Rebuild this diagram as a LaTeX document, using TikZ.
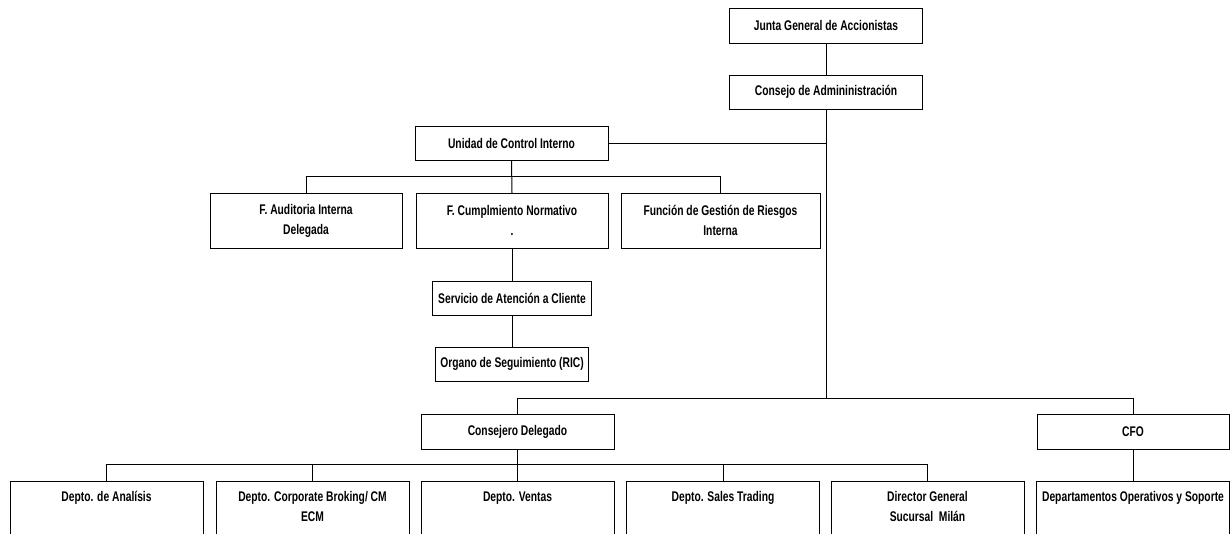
\documentclass[tikz,border=0pt]{standalone}
\usepackage{fontspec}
\setmainfont[FakeStretch=0.735]{Liberation Sans}
\begin{document}
\begin{tikzpicture}[x=1pt,y=-1pt,
  box/.style={draw=black,line width=1pt,fill=white,inner sep=0pt,outer sep=0pt,align=center,
    font=\fontsize{14}{20}\selectfont\bfseries},
  txt/.style={inner sep=0pt,align=center,anchor=north,font=\fontsize{14}{20}\selectfont\bfseries},
  con/.style={draw=black,line width=1pt}]
\clip (0,0) rectangle (1232,533);
\fill[white] (0,0) rectangle (1232,533);
% top
\node[box,minimum width=193,minimum height=35] (junta) at (826,25.5) {Junta General de Accionistas};
\node[box,minimum width=193,minimum height=34] (cadm) at (826,92) {Consejo de Admininistración};
\node[box,minimum width=193,minimum height=34] (uci) at (511.5,143) {Unidad de Control Interno};
% middle row
\node[box,minimum width=192,minimum height=55] (fa) at (306,220.5) {F. Auditoria Interna\\Delegada};
\node[box,minimum width=192,minimum height=55] (fc) at (512,220.5) {F. Cumplmiento Normativo\\.};
\node[box,minimum width=199,minimum height=55] (fg) at (720.5,220.5) {Función de Gestión de Riesgos\\Interna};
\node[box,minimum width=159,minimum height=34] (sac) at (512,298) {Servicio de Atención a Cliente};
\node[box,minimum width=153,minimum height=34] (ric) at (512,364) {Organo de Seguimiento (RIC)};
% lower
\node[box,minimum width=193,minimum height=35] (cd) at (517.5,431.5) {Consejero Delegado};
\node[box,minimum width=192,minimum height=35] (cfo) at (1133,431.5) {CFO};
% bottom boxes
\foreach \n/\x in {b1/106.5,b2/312.5,b3/517.5,b4/723,b5/927.5,b6/1133}
  \node[box,anchor=north,minimum width=193,minimum height=80] (\n) at (\x,481) {};
\node[txt] (t1) at ([yshift=-10.5pt]b1.north) {Depto. de Analísis};
\node[txt] (t2) at ([yshift=-10.5pt]b2.north) {Depto. Corporate Broking/ CM\\ECM};
\node[txt] (t3) at ([yshift=-10.5pt]b3.north) {Depto. Ventas};
\node[txt] (t4) at ([yshift=-10.5pt]b4.north) {Depto. Sales Trading};
\node[txt] (t5) at ([yshift=-10.5pt]b5.north) {Director General\\Sucursal\ \ Milán};
\node[txt] (t6) at ([yshift=-10.5pt]b6.north) {Departamentos Operativos y Soporte};
% buses
\coordinate (busA) at (826,398);
\coordinate (busU) at (512,176.5);
\coordinate (busC) at (517.5,464.5);
% connectors
\draw[con] (junta.south) -- (cadm.north);
\draw[con] (cadm.south) -- (busA);
\draw[con] (uci.east) -- (uci.east -| cadm.south);
\draw[con] (cd.north) -- (cd.north |- busA) -- (cfo.north |- busA) -- (cfo.north);
\draw[con] (uci.south) -- (fc.north);
\draw[con] (fa.north) |- (busU) -| (fg.north);
\draw[con] (fc.south) -- (sac.north);
\draw[con] (sac.south) -- (ric.north);
\draw[con] (cd.south) -- (b3.north);
\draw[con] (b1.north) |- (busC) -| (b5.north);
\draw[con] (b2.north) -- (b2.north |- busC);
\draw[con] (b4.north) -- (b4.north |- busC);
\draw[con] (cfo.south) -- (b6.north);
\end{tikzpicture}
\end{document}
